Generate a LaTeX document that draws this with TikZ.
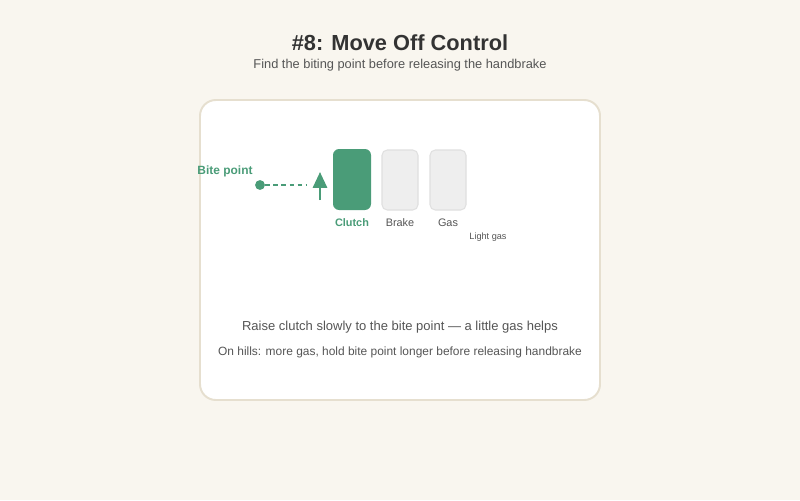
\documentclass[tikz,border=0pt]{standalone}
\usepackage{fontspec}
\setmainfont{Liberation Sans}
\usepackage{xcolor}
\usepackage{tikz}
\usetikzlibrary{arrows.meta}

\definecolor{bgcream}{HTML}{F9F6EF}
\definecolor{cardline}{HTML}{E6DFCF}
\definecolor{pedalgreen}{HTML}{4A9C78}
\definecolor{pedalgray}{HTML}{EEEEEE}
\definecolor{pedalline}{HTML}{E0E0E0}
\definecolor{titlegray}{HTML}{333333}
\definecolor{textgray}{HTML}{555555}

\tikzset{
  pedal/.style={draw=pedalline, fill=pedalgray, line width=0.6pt, rounded corners=3pt},
  pedallabel/.style={font=\fontsize{6.2}{7}\selectfont, text=textgray},
}

\begin{document}
\begin{tikzpicture}[x=0.02cm, y=-0.02cm]
% sfondo
\fill[bgcream] (0,0) rectangle (800,500);
\useasboundingbox (0,0) rectangle (800,500);

% titolo
\node (title) at (400,43) [font=\bfseries\fontsize{12.4}{14}\selectfont, text=titlegray] {\#8: Move Off Control};
\node (subtitle) at (400,65.5) [font=\fontsize{7.3}{9}\selectfont, text=textgray] {Find the biting point before releasing the handbrake};

% riquadro
\draw[cardline, fill=white, line width=1.1pt, rounded corners=9pt] (200,100) rectangle (600,400);

% pedali
\fill[pedalgreen, rounded corners=3.5pt] (333,149) rectangle (371,210);
\coordinate (clutch) at (352,179.5);
\draw[pedal] (382,150) rectangle (418,210);
\coordinate (brake) at (400,180);
\draw[pedal] (430,150) rectangle (466,210);
\coordinate (gas) at (448,180);

\node (clutchlabel) at (352,222.5) [font=\bfseries\fontsize{6.2}{7}\selectfont, text=pedalgreen] {Clutch};
\node (brakelabel) at (400,222.5) [pedallabel] {Brake};
\node (gaslabel) at (448,222.5) [pedallabel] {Gas};
\node (lightgas) at (488,237.5) [font=\fontsize{5.2}{6}\selectfont, text=textgray] {Light gas};

% punto di stacco
\node (bitelabel) at (225,171) [font=\bfseries\fontsize{6.8}{8}\selectfont, text=pedalgreen] {Bite point};
\node (bitedot) at (260,185) [circle, fill=pedalgreen, inner sep=0pt, minimum size=5.6pt] {};
\coordinate (dashend) at (306,185);
\draw[pedalgreen, dashed, line width=0.9pt, dash pattern=on 2.6pt off 2pt] (bitedot) -- (dashend);

% freccia
\coordinate (arrowfoot) at (320,200);
\coordinate (arrowtip) at (320,172);
\draw[-{Triangle[length=9pt, width=8pt]}, pedalgreen, line width=1.4pt] (arrowfoot) -- (arrowtip);

% note
\node (note1) at (400,327) [font=\fontsize{7.4}{9}\selectfont, text=textgray] {Raise clutch slowly to the bite point — a little gas helps};
\node (note2) at (400,352) [font=\fontsize{6.8}{8}\selectfont, text=textgray] {On hills: more gas, hold bite point longer before releasing handbrake};
\end{tikzpicture}
\end{document}
